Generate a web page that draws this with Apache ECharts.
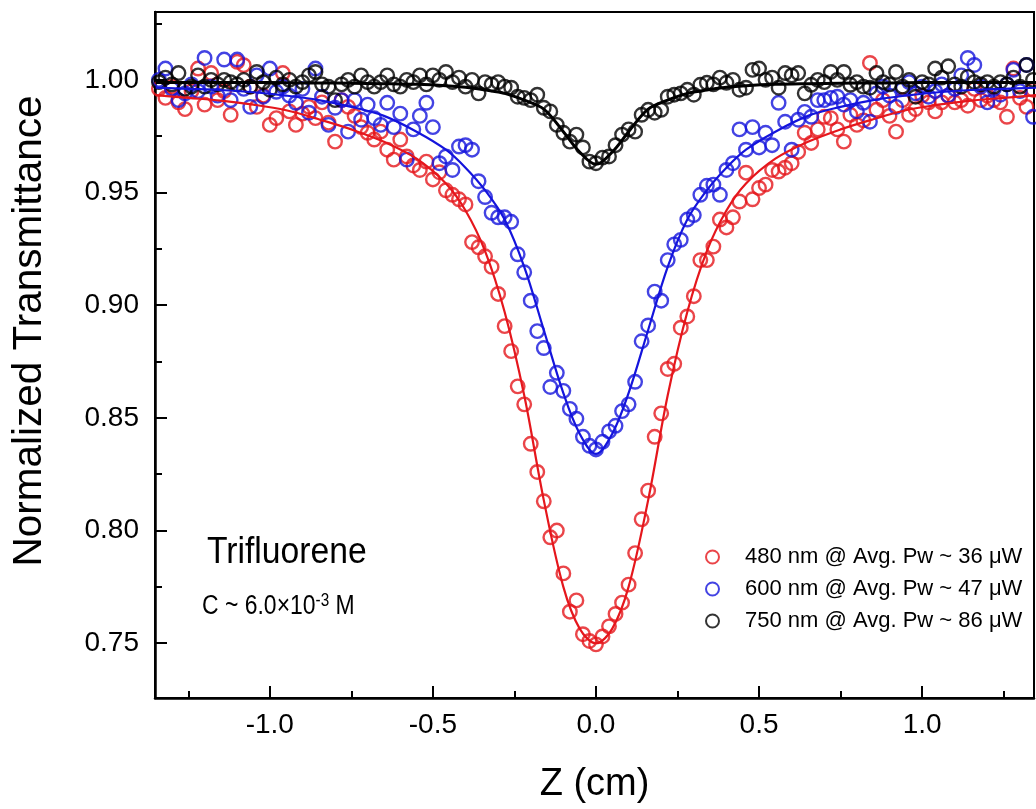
<!DOCTYPE html>
<html>
<head>
<meta charset="utf-8">
<script src="https://cdn.jsdelivr.net/npm/echarts@6/dist/echarts.min.js"></script>
<style>
html,body{margin:0;padding:0;background:#fff;}
#chart{width:1036px;height:809px;}
</style>
</head>
<body>
<div id="chart"></div>
<script>
// ---- data ----
const zPos = [-1.34,-1.32,-1.30,-1.28,-1.26,-1.24,-1.22,-1.20,-1.18,-1.16,
-1.14,-1.12,-1.10,-1.08,-1.06,-1.04,-1.02,-1.00,-0.98,-0.96,
-0.94,-0.92,-0.90,-0.88,-0.86,-0.84,-0.82,-0.80,-0.78,-0.76,
-0.74,-0.72,-0.70,-0.68,-0.66,-0.64,-0.62,-0.60,-0.58,-0.56,
-0.54,-0.52,-0.50,-0.48,-0.46,-0.44,-0.42,-0.40,-0.38,-0.36,
-0.34,-0.32,-0.30,-0.28,-0.26,-0.24,-0.22,-0.20,-0.18,-0.16,
-0.14,-0.12,-0.10,-0.08,-0.06,-0.04,-0.02,0.00,
0.02,0.04,0.06,0.08,0.10,0.12,0.14,0.16,0.18,0.20,
0.22,0.24,0.26,0.28,0.30,0.32,0.34,0.36,0.38,0.40,
0.42,0.44,0.46,0.48,0.50,0.52,0.54,0.56,0.58,0.60,
0.62,0.64,0.66,0.68,0.70,0.72,0.74,0.76,0.78,0.80,
0.82,0.84,0.86,0.88,0.90,0.92,0.94,0.96,0.98,1.00,
1.02,1.04,1.06,1.08,1.10,1.12,1.14,1.16,1.18,1.20,
1.22,1.24,1.26,1.28,1.30,1.32,1.34];

const red480 = [0.996,0.992,0.997,0.990,0.987,0.995,1.005,0.989,1.003,0.991,
0.995,0.9845,1.008,1.0065,0.997,0.988,0.993,0.980,0.983,1.003,
0.986,0.980,0.985,0.988,0.983,0.990,0.981,0.9726,0.991,0.988,
0.984,0.979,0.9765,0.9735,0.977,0.969,0.9646,0.9735,0.966,0.962,
0.960,0.9637,0.9558,0.959,0.951,0.949,0.947,0.9447,0.928,0.9257,
0.9217,0.917,0.905,0.8907,0.8796,0.864,0.856,0.8385,0.826,0.813,
0.797,0.800,0.781,0.764,0.769,0.754,0.751,0.7495,
0.753,0.7575,0.763,0.768,0.776,0.790,0.805,0.8177,0.8416,0.852,
0.8717,0.874,0.890,0.895,0.904,0.920,0.920,0.926,0.938,0.9345,
0.939,0.946,0.9588,0.947,0.952,0.9535,0.960,0.9593,0.961,0.963,
0.968,0.9765,0.972,0.978,0.9836,0.983,0.978,0.9726,0.9845,0.980,
0.982,1.0075,0.9867,0.991,0.984,0.977,0.991,0.9845,0.987,0.993,
0.990,0.986,0.990,0.993,0.990,0.991,0.9885,0.996,0.991,0.993,
0.991,0.990,0.9836,1.005,0.992,0.988,0.9956];

const blue600 = [1.000,1.005,0.996,0.991,0.994,0.998,0.995,1.0097,0.997,0.993,
1.009,0.991,1.009,0.996,0.988,1.002,0.9925,1.005,0.9947,0.997,
0.993,0.9898,0.996,0.9854,1.005,0.9925,0.980,0.9876,0.991,0.977,
0.991,0.9823,0.989,0.983,0.980,0.9898,0.979,0.985,0.9646,0.978,
0.984,0.9898,0.979,0.963,0.966,0.960,0.9704,0.971,0.969,0.955,
0.948,0.941,0.939,0.939,0.937,0.9226,0.9146,0.902,0.8885,0.881,
0.8637,0.870,0.862,0.854,0.8496,0.8416,0.8376,0.836,
0.8394,0.844,0.8465,0.853,0.856,0.866,0.884,0.891,0.906,0.902,
0.920,0.927,0.929,0.938,0.940,0.949,0.953,0.9535,0.949,0.960,
0.963,0.978,0.969,0.979,0.970,0.9765,0.971,0.9898,0.9814,0.969,
0.9823,0.9858,0.9836,0.991,0.991,0.992,0.9925,0.989,0.991,0.986,
0.9898,0.9814,0.994,0.997,0.993,0.988,0.996,0.999,0.994,0.997,
0.9925,0.995,0.998,0.993,0.996,1.002,1.0097,1.0066,0.997,0.990,
0.996,0.9934,0.998,1.0044,0.995,1.0066,0.9836];

const black750 = [0.999,1.001,0.998,1.003,0.996,0.997,1.002,0.997,1.000,0.998,
1.000,0.999,0.998,1.000,0.997,1.0035,0.999,0.9956,1.001,0.998,
1.000,0.997,0.999,1.002,1.0035,0.998,0.997,0.991,0.998,1.000,
0.997,1.002,0.999,0.997,0.999,1.002,0.998,0.997,1.000,0.999,
1.002,0.998,1.002,1.000,1.0035,0.999,1.001,0.997,1.000,0.994,
0.999,0.998,0.999,0.997,0.9965,0.9925,0.992,0.991,0.9934,0.9876,
0.986,0.980,0.9765,0.9726,0.9757,0.970,0.9637,0.963,
0.9655,0.966,0.971,0.9757,0.978,0.977,0.9845,0.9867,0.9854,0.9867,
0.9925,0.9934,0.994,0.9956,0.9934,0.9978,0.9987,0.998,1.001,0.9987,
1.000,0.9956,0.9965,1.0044,1.005,1.000,1.001,0.9965,1.003,1.002,
1.003,0.994,0.9978,1.000,0.999,1.0035,1.000,1.0035,0.9978,0.999,
0.997,0.9965,1.003,0.999,0.998,1.0035,0.997,1.000,0.9925,0.999,
0.998,1.005,1.001,1.006,0.998,0.997,1.0013,0.999,0.998,0.999,
0.997,0.999,0.998,1.001,0.997,1.0066,1.000];

// fitted curves
const fitZ = [-1.35,-1.25,-1.15,-1.05,-0.95,-0.85,-0.75,-0.65,-0.55,-0.46,-0.40,-0.34,-0.28,-0.22,-0.16,-0.10,-0.05,0,
0.05,0.10,0.16,0.22,0.28,0.34,0.40,0.46,0.55,0.65,0.75,0.85,0.95,1.05,1.15,1.25,1.35];
const fitRed = [0.9932,0.992,0.9908,0.989,0.9865,0.9825,0.978,0.9725,0.965,0.954,0.942,0.924,0.897,0.860,0.8135,0.775,0.7565,0.750,
0.7565,0.775,0.8135,0.860,0.897,0.924,0.942,0.954,0.965,0.9725,0.978,0.9825,0.9865,0.989,0.9908,0.992,0.9932];
const fitBlue = [0.9965,0.996,0.9955,0.9945,0.993,0.991,0.988,0.984,0.977,0.969,0.961,0.951,0.938,0.917,0.889,0.861,0.843,0.834,
0.843,0.861,0.889,0.917,0.938,0.951,0.961,0.969,0.977,0.984,0.988,0.991,0.993,0.9945,0.9955,0.996,0.9965];
const fitBlack = [0.9988,0.9988,0.9988,0.9988,0.9987,0.9986,0.9985,0.9983,0.998,0.9974,0.9967,0.9955,0.994,0.991,0.987,0.977,0.968,0.9625,
0.968,0.977,0.987,0.991,0.994,0.9955,0.9967,0.9974,0.998,0.9983,0.9985,0.9986,0.9987,0.9988,0.9988,0.9988,0.9988];

const xMajor = [-1.0,-0.5,0.0,0.5,1.0];
const xMinor = [-1.25,-0.75,-0.25,0.25,0.75,1.25];
const yMajor = [0.75,0.80,0.85,0.90,0.95,1.00];
const yMinor = [0.775,0.825,0.875,0.925,0.975,1.025];
const seriesNames = ['480 nm @ Avg. Pw ~ 36 \u03bcW','600 nm @ Avg. Pw ~ 47 \u03bcW','750 nm @ Avg. Pw ~ 86 \u03bcW'];
const colors = ['#e5161c','#1414dc','#000000'];

// ---- chart ----
const FONT = "'Liberation Sans', Arial, Helvetica, sans-serif";
const pairs = (xs, ys) => xs.map((x, i) => [x, ys[i]]);
const XMIN = -1.352, XMAX = 1.343, YMIN = 0.7257, YMAX = 1.0301;

const chart = echarts.init(document.getElementById('chart'), null, {renderer: 'canvas'});

function scatter(name, ys, color, z) {
  return {
    name, type: 'scatter', data: pairs(zPos, ys), symbol: 'circle', symbolSize: 13.5, z,
    itemStyle: {color: 'rgba(255,255,255,0)', borderColor: color, borderWidth: 2.4}
  };
}
function fit(ys, color, w, z) {
  return {
    type: 'line', data: pairs(fitZ, ys), showSymbol: false, smooth: 0.35, z,
    lineStyle: {color, width: w}, silent: true
  };
}

const option = {
  animation: false,
  backgroundColor: '#fff',
  grid: {left: 155, right: 2, top: 12, bottom: 109, show: true, borderColor: '#000', borderWidth: 2},
  xAxis: [{
    type: 'value', min: XMIN, max: XMAX, position: 'bottom',
    axisLine: {show: true, onZero: false, lineStyle: {color: '#000', width: 2.5}},
    axisTick: {show: true, inside: true, length: 12, customValues: xMajor, lineStyle: {color: '#000', width: 2}},
    axisLabel: {show: true, customValues: xMajor, formatter: v => v.toFixed(1), fontSize: 28, color: '#000', fontFamily: FONT, margin: 13},
    splitLine: {show: false},
    name: 'Z (cm)', nameLocation: 'middle', nameGap: 68,
    nameTextStyle: {fontSize: 38, color: '#000', fontFamily: FONT}
  }, {
    type: 'value', min: XMIN, max: XMAX, position: 'bottom',
    axisLine: {show: false, onZero: false},
    axisTick: {show: true, inside: true, length: 7, customValues: xMinor, lineStyle: {color: '#000', width: 2}},
    axisLabel: {show: false}, splitLine: {show: false}
  }],
  yAxis: [{
    type: 'value', min: YMIN, max: YMAX, position: 'left',
    axisLine: {show: true, onZero: false, lineStyle: {color: '#000', width: 2.5}},
    axisTick: {show: true, inside: true, length: 12, customValues: yMajor, lineStyle: {color: '#000', width: 2}},
    axisLabel: {show: true, customValues: yMajor, formatter: v => v.toFixed(2), fontSize: 28, color: '#000', fontFamily: FONT, margin: 16},
    splitLine: {show: false}
  }, {
    type: 'value', min: YMIN, max: YMAX, position: 'left',
    axisLine: {show: false, onZero: false},
    axisTick: {show: true, inside: true, length: 7, customValues: yMinor, lineStyle: {color: '#000', width: 2}},
    axisLabel: {show: false}, splitLine: {show: false}
  }],
  legend: {
    orient: 'vertical', left: 705, top: 546, padding: 0,
    itemWidth: 13, itemHeight: 13, itemGap: 10, itemTextGap: 6,
    textStyle: {fontSize: 22, lineHeight: 21, color: '#000', fontFamily: FONT, padding: [0, 0, 0, 21]},
    data: seriesNames.map((n, i) => ({
      name: n, icon: 'circle',
      itemStyle: {color: 'rgba(255,255,255,0)', borderColor: colors[i], borderWidth: 2}
    }))
  },
  graphic: [
    {type: 'text', x: 30, y: 331, rotation: Math.PI / 2,
     style: {text: 'Normalized Transmittance', fontSize: 40.5, fontFamily: FONT, fill: '#000', align: 'center', verticalAlign: 'middle'}},
    {type: 'text', x: 207, y: 553, scaleX: 0.91,
     style: {text: 'Trifluorene', fontSize: 37, fontFamily: FONT, fill: '#000', align: 'left', verticalAlign: 'middle'}},
    {type: 'text', x: 202, y: 607, scaleX: 0.85,
     style: {text: '{n|C ~ 6.0\u00d710}{s|-3}{n| M}', fontFamily: FONT, fill: '#000', align: 'left', verticalAlign: 'middle',
       rich: {n: {fontSize: 27, fontFamily: FONT, lineHeight: 30}, s: {fontSize: 18, fontFamily: FONT, verticalAlign: 'top', lineHeight: 16}}}}
  ],
  series: [
    scatter(seriesNames[0], red480, colors[0], 2),
    scatter(seriesNames[1], blue600, colors[1], 3),
    scatter(seriesNames[2], black750, colors[2], 4),
    fit(fitRed, colors[0], 2.2, 5),
    fit(fitBlue, colors[1], 2.2, 6),
    fit(fitBlack, colors[2], 3, 7)
  ]
};
chart.setOption(option);
</script>
</body>
</html>
